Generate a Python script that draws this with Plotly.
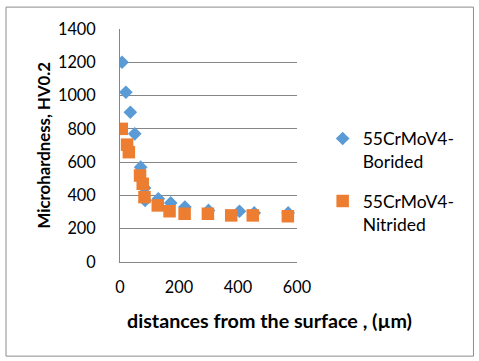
import plotly.graph_objects as go

# Borided series
borided_x = [7, 20, 35, 50, 70, 83, 85, 130, 172, 220, 300, 405, 455, 570]
borided_y = [1200, 1020, 900, 770, 570, 445, 370, 380, 355, 330, 310, 305, 295, 295]

# Nitrided series
nitrided_x = [6, 24, 30, 68, 77, 83, 128, 168, 219, 298, 377, 450, 569]
nitrided_y = [800, 705, 660, 520, 470, 390, 340, 305, 290, 290, 280, 280, 275]

FONT = "Lato"
GRID = "#868686"

fig = go.Figure()

fig.add_trace(go.Scatter(
    x=borided_x, y=borided_y, mode="markers",
    name="55CrMoV4-<br>Borided", legendgroup="a",
    marker=dict(symbol="diamond", size=10.5, color="#5B9BD5"),
))
fig.add_trace(go.Scatter(
    x=nitrided_x, y=nitrided_y, mode="markers",
    name="55CrMoV4-<br>Nitrided", legendgroup="b",
    marker=dict(symbol="square", size=12.5, color="#ED7D31"),
))

# outer chart border
fig.add_shape(type="rect", xref="paper", yref="paper",
              x0=-0.644, x1=1.997, y0=-0.404, y1=1.094,
              line=dict(color="#8C8C8C", width=1))

# axis titles (Excel centres the x title over the whole chart)
fig.add_annotation(text="<b>distances from the surface , (µm)</b>",
                   xref="paper", yref="paper", x=0.847, y=-0.249,
                   xanchor="center", yanchor="middle", showarrow=False,
                   font=dict(size=19.7))
fig.add_annotation(text="<b>Microhardness, HV0.2</b>", textangle=-90,
                   xref="paper", yref="paper", x=-0.435, y=0.5,
                   xanchor="center", yanchor="middle", showarrow=False,
                   font=dict(size=16.8))

fig.update_layout(
    width=479, height=361,
    margin=dict(l=120, r=182, t=29, b=99),
    paper_bgcolor="white", plot_bgcolor="white",
    font=dict(family=FONT, size=16.3, color="#000000"),
    showlegend=True,
    legend=dict(x=1.145, y=0.347, xanchor="left", yanchor="middle",
                valign="top", tracegroupgap=14, font=dict(size=17.5),
                itemwidth=30),
    xaxis=dict(
        range=[0, 600], dtick=200, showgrid=False, zeroline=False,
        showline=True, linecolor=GRID, linewidth=1,
        ticks="", ticklabelstandoff=10,
    ),
    yaxis=dict(
        range=[0, 1400], dtick=200, showgrid=True, gridcolor=GRID,
        gridwidth=1, zeroline=False,
        showline=True, linecolor=GRID, linewidth=1,
        ticks="", ticklabelstandoff=20,
    ),
)

fig.write_html("out.html", config={"displayModeBar": False},
               post_script="document.body.style.margin='0';")
